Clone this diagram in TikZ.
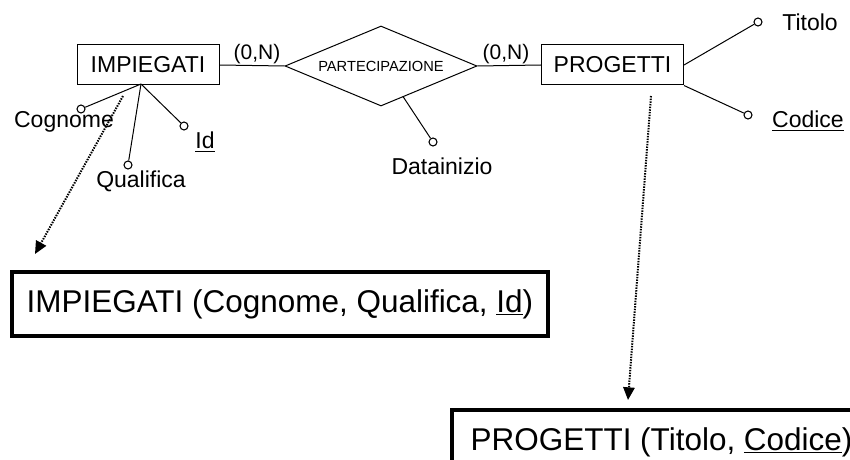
\documentclass[tikz,border=0pt]{standalone}
\usepackage{fontspec}
\setmainfont{Liberation Sans}
\usetikzlibrary{arrows.meta,shapes.geometric}

\tikzset{
  entity/.style={draw=black, line width=0.75pt, minimum width=106.5pt, minimum height=30pt, inner sep=0pt, font=\fontsize{17.25}{20}\selectfont},
  relship/.style={diamond, draw=black, line width=0.75pt, aspect=2.4, inner sep=0pt, minimum width=144pt, minimum height=60pt, font=\fontsize{11}{13}\selectfont},
  attr/.style={circle, draw=black, fill=white, line width=0.8pt, minimum size=6pt, inner sep=0pt},
  attrname/.style={inner sep=0pt, font=\fontsize{17.25}{20}\selectfont},
  card/.style={inner sep=0pt, font=\fontsize{15.75}{18}\selectfont},
  schema/.style={draw=black, line width=3pt, minimum height=48pt, inner xsep=11pt, font=\fontsize{23.6}{28}\selectfont},
  maps/.style={dash pattern=on 1.1pt off 0.9pt, line width=1.5pt, -{Triangle[length=9.5pt,width=8.5pt]}}
}

\begin{document}
\begin{tikzpicture}[x=0.75pt,y=0.75pt]
                    \useasboundingbox (0,0) rectangle (850,-460);
                    \clip (0,0) rectangle (850,-460);
                    \node [entity] (impiegati) at (148,-65) {IMPIEGATI};
                    \node [relship] (partecipazione) at (381,-66) {PARTECIPAZIONE};
                    \node [entity] (progetti) at (612.5,-65) {PROGETTI};
                    \draw [black, line width=0.75pt] (impiegati.east) -- (partecipazione.west);
                    \node [card] (card1) at (257,-54) {(0,N)};
                    \draw [black, line width=0.75pt] (partecipazione.east) -- (progetti.west);
                    \node [card] (card2) at (506,-54) {(0,N)};
                    \coordinate (impa) at (141,-84);
                    \node [attr] (cognome) at (81,-109) {};
                    \node [attrname] (cognomel) at (64,-122) {Cognome};
                    \draw [black, line width=0.75pt] (impa) -- (cognome);
                    \node [attr] (qualifica) at (128,-165) {};
                    \node [attrname] (qualifical) at (141,-181) {Qualifica};
                    \draw [black, line width=0.75pt] (impa) -- (qualifica);
                    \node [attr] (id) at (184,-126) {};
                    \node [attrname] (idl) at (205,-142) {\underline{Id}};
                    \draw [black, line width=0.75pt] (impa) -- (id);
                    \coordinate (data) at (403,-96.5);
                    \node [attr] (datainizio) at (433,-142) {};
                    \node [attrname] (datainiziol) at (442,-166) {Datainizio};
                    \draw [black, line width=0.75pt] (data) -- (datainizio);
                    \node [attr] (titolo) at (758,-22) {};
                    \node [attrname] (titolol) at (810,-22) {Titolo};
                    \draw [black, line width=0.75pt] (progetti.east) -- (titolo);
                    \node [attr] (codice) at (748,-115) {};
                    \node [attrname] (codicel) at (808,-121) {\underline{Codice}};
                    \draw [black, line width=0.75pt] (progetti.south east) -- (codice);
                    \node [schema, anchor=north west] (impschema) at (10,-270) {IMPIEGATI (Cognome, Qualifica, \underline{Id})};
                    \node [schema, anchor=north west, inner xsep=14pt] (progschema) at (450,-408) {PROGETTI (Titolo, \underline{Codice})};
                    \coordinate (imp0) at (123,-96);
                    \coordinate (imp1) at (35,-254);
                    \draw [maps] (imp0) -- (imp1);
                    \coordinate (prog0) at (651,-96);
                    \coordinate (prog1) at (628,-400);
                    \draw [maps] (prog0) -- (prog1);
\end{tikzpicture}
\end{document}
